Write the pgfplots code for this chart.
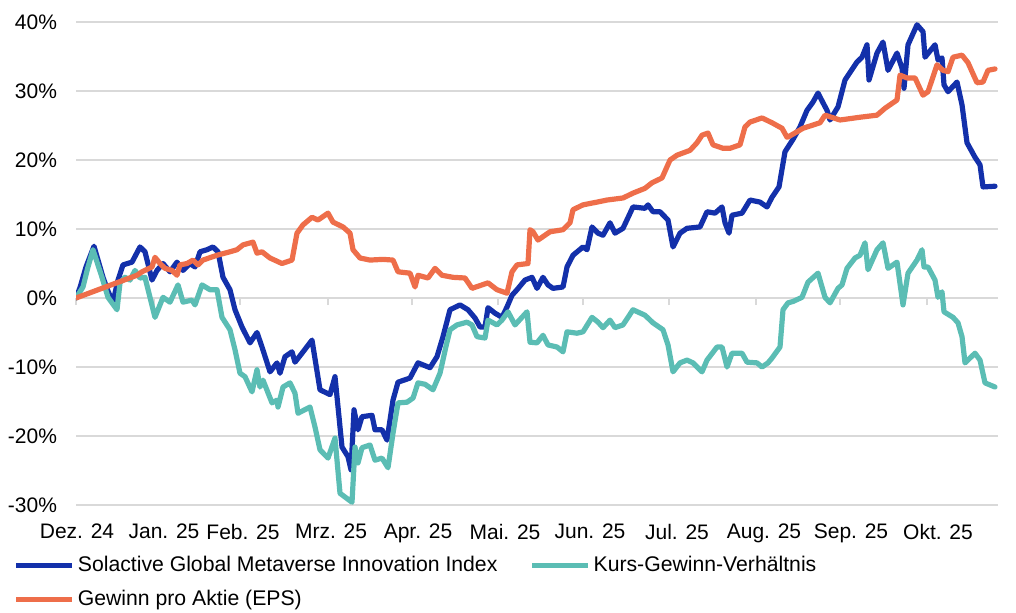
\documentclass[border=0pt]{standalone}
\usepackage{fontspec}
\setmainfont{Liberation Sans}
\usepackage{pgfplots}
\pgfplotsset{compat=1.18}

\definecolor{cBlue}{HTML}{1330AA}
\definecolor{cTeal}{HTML}{5BBDB4}
\definecolor{cOrange}{HTML}{EE6E4A}
\definecolor{cGrid}{HTML}{D9D9D9}

\begin{document}
\begin{tikzpicture}
\useasboundingbox (0,0) rectangle (508pt,306pt);

% month tick marks on the zero line
\begin{axis}[
    at={(38pt,53.5pt)}, anchor=south west,
    scale only axis, width=461pt, height=241.5pt,
    xmin=76, xmax=998, ymin=-30, ymax=40,
    axis x line=middle, axis y line=none,
    axis line style={draw=none},
    xtick={76,154,240,328,412,498,583,669,756,840,927},
    xticklabels={},
    tick align=outside,
    major tick length=3.5pt,
    tick style={draw=cGrid, line width=1pt},
]
\end{axis}

\begin{axis}[
    at={(38pt,53.5pt)}, anchor=south west,
    scale only axis, width=461pt, height=241.5pt,
    xmin=76, xmax=998, ymin=-30, ymax=40,
    axis line style={draw=none},
    major tick length=0pt,
    ymajorgrids,
    grid style={draw=cGrid, line width=1pt},
    ytick={-30,-20,-10,0,10,20,30,40},
    yticklabels={-30\%,-20\%,-10\%,0\%,10\%,20\%,30\%,40\%},
    xtick={77,164,243,331,418,505,590,677,764,851,938},
    xticklabels={Dez. 24,Jan. 25,Feb. 25,Mrz. 25,Apr. 25,Mai. 25,Jun. 25,Jul. 25,Aug. 25,Sep. 25,Okt. 25},
    tick label style={font=\fontsize{10.5}{12}\selectfont},
    xticklabel style={yshift=-6pt},
    yticklabel style={xshift=-6pt},
    every axis plot/.append style={line width=2.6pt, line join=round, line cap=round},
    legend columns=2,
    legend style={
        at={(-0.068,-0.099)}, anchor=north west,
        draw=none, fill=none, inner sep=0pt,
        font=\fontsize{10.6}{12}\selectfont,
        cells={anchor=west},
        nodes={inner sep=1.5pt},
        row sep=5pt,
        /tikz/every even column/.append style={column sep=14.5pt},
    },
    legend image code/.code={\draw[#1, line cap=butt] (0pt,0pt) -- (28pt,0pt);},
]
\addplot[cBlue] coordinates {
(76,0) (80,1.5) (86,4.5) (90,6) (94,7.5) (99,5) (103,3) (108,1) (113,-0.6) (118,2.6)
(123,4.8) (132,5.2) (140,7.4) (145,6.7) (152,2.6) (157,4) (163,5) (170,3.8) (177,5.2) (183,4)
(190,5) (195,4.5) (200,6.7) (207,7) (213,7.4) (218,6.7) (223,3) (230,1.2) (235,-1.7) (242,-4.2)
(250,-6.5) (257,-5) (262,-7.1) (270,-10.7) (277,-9.4) (280,-10.9) (285,-8.5) (292,-7.8) (295,-9.3) (302,-8)
(312,-6.1) (320,-13.3) (330,-14) (335,-11.4) (342,-21.6) (348,-23) (351,-24.9) (354,-16.2) (358,-19.1) (362,-17.2)
(372,-17) (375,-19.1) (382,-19.1) (387,-20.6) (393,-14.8) (398,-12.2) (410,-11.6) (418,-9.4) (430,-10.1) (437,-8.5)
(443,-5.6) (450,-1.7) (460,-1) (468,-1.7) (475,-2.9) (480,-4.2) (485,-4.2) (488,-1.4) (495,-2.2) (502,-2.8)
(507,-1.3) (512,0.4) (517,1.2) (525,2.6) (532,3) (537,1.4) (543,3) (548,1.9) (553,1.4) (563,1.6)
(567,4.5) (573,6.2) (583,7.4) (587,7) (592,10.3) (598,9.4) (603,9.1) (610,10.9) (615,9.4) (623,10.1)
(633,13.2) (645,13) (648,13.5) (653,12.5) (660,12.5) (668,11.3) (673,7.4) (680,9.4) (687,10.1) (700,10.3)
(707,12.5) (715,12.3) (722,13.2) (725,10.9) (729,9.4) (732,12) (742,12.3) (750,14.2) (760,13.9) (767,13.2)
(772,14.6) (779,16.1) (785,21.2) (793,23) (800,24.8) (807,27.2) (813,28.4) (818,29.7) (823,28.3) (827,27.2)
(830,25.8) (838,27.7) (845,31.6) (857,34.2) (862,34.9) (867,36.7) (869,31.6) (877,35.5) (883,37.1) (888,33)
(897,35.5) (902,33.3) (904,30.4) (908,36.7) (917,39.6) (923,38.6) (925,34.9) (935,36.7) (938,34.5) (942,34.8)
(944,30.9) (948,29.9) (957,31.3) (962,28) (967,22.5) (975,20.4) (980,19.3) (983,16.1) (995,16.2)
};
\addlegendentry{Solactive Global Metaverse Innovation Index}
\addplot[cTeal] coordinates {
(76,0) (83,1.6) (88,4.5) (93,7) (102,3) (108,0.1) (117,-1.7) (120,2.2) (125,3) (130,2.6)
(135,4) (140,2.9) (145,3) (155,-2.8) (163,0.1) (170,-0.6) (178,1.9) (183,-0.6) (192,-0.3) (195,-1)
(202,1.9) (210,1.2) (217,1.2) (222,-2.8) (230,-4.6) (235,-7.5) (240,-10.9) (245,-11.4) (252,-13.6) (257,-10.4)
(260,-12.9) (263,-11.9) (272,-15.2) (277,-14.8) (278,-15.8) (283,-12.9) (290,-12.3) (295,-13.8) (298,-16.7) (310,-15.8)
(315,-18.7) (320,-22) (328,-23.2) (335,-20.3) (340,-28.3) (352,-29.6) (355,-21.6) (358,-23.9) (362,-21.7) (370,-21.3)
(375,-23.5) (382,-23.2) (388,-24.6) (393,-19.6) (398,-15.2) (407,-15.1) (413,-14.5) (418,-12.3) (425,-12.5) (433,-13.3)
(440,-10.9) (446,-7) (450,-4.6) (457,-3.9) (467,-3.5) (472,-3.9) (477,-5.6) (485,-5.8) (488,-3.2) (497,-3.9)
(502,-3.2) (508,-2) (515,-3.9) (527,-2) (530,-6.4) (537,-6.5) (543,-5.4) (548,-6.8) (557,-7.1) (563,-7.8)
(567,-4.9) (577,-5.1) (583,-4.9) (592,-2.8) (598,-3.5) (603,-4.3) (610,-3.2) (615,-4.3) (623,-3.9) (633,-1.7)
(645,-2.5) (653,-3.6) (663,-4.6) (668,-6.8) (673,-10.7) (680,-9.4) (687,-9) (693,-9.4) (702,-10.7) (707,-9)
(717,-7.1) (722,-7.1) (727,-10) (732,-8) (742,-8) (747,-9.3) (757,-9.4) (762,-10) (768,-9.4) (772,-8.7)
(780,-7.1) (783,-1.7) (788,-0.7) (793,-0.5) (802,0.1) (808,2.3) (818,3.6) (825,0.1) (830,-0.7) (838,1.4)
(842,1.9) (847,4.3) (855,5.8) (860,6.2) (865,8) (868,4.1) (877,7) (883,8) (888,4.3) (897,5.2)
(903,-1) (908,3.6) (917,5.5) (922,7) (924,4.5) (928,4.5) (935,2.6) (938,0.1) (942,0.9) (944,-2)
(953,-2.8) (958,-3.6) (962,-5.6) (965,-9.4) (975,-8) (980,-9) (985,-12.3) (995,-12.9)
};
\addlegendentry{Kurs-Gewinn-Verhältnis}
\addplot[cOrange] coordinates {
(76,0) (137,3.3) (142,3.8) (152,4.5) (155,5.9) (160,5) (165,4.3) (172,4) (177,3.3) (180,4.8)
(187,5) (193,5.5) (198,4.8) (203,5.5) (217,6.2) (230,6.7) (237,7) (243,7.7) (253,8.1) (257,6.5)
(262,6.7) (270,5.8) (282,5) (292,5.5) (297,9.4) (303,10.6) (312,11.7) (318,11.3) (328,12.3) (333,11)
(343,10.3) (350,9.4) (353,7) (360,5.8) (370,5.5) (383,5.6) (393,5.5) (398,3.8) (410,3.6) (415,1.6)
(418,3.3) (428,2.9) (435,4.3) (442,3.3) (453,3) (465,2.9) (472,1.4) (488,2.2) (497,1.2) (507,0.7)
(512,3.8) (517,4.8) (528,5) (530,9.9) (533,9.6) (538,8.4) (550,9.6) (563,9.9) (570,10.9) (573,12.8)
(583,13.5) (597,13.9) (607,14.2) (623,14.5) (633,15.2) (645,15.9) (652,16.7) (662,17.4) (670,20) (677,20.7)
(690,21.4) (697,22.5) (702,23.6) (708,23.9) (713,22.2) (723,21.7) (730,21.7) (740,22.2) (745,24.8) (750,25.5)
(762,26.1) (772,25.4) (782,24.6) (787,23.3) (790,23.5) (803,24.6) (820,25.4) (825,26.5) (840,25.8) (860,26.2)
(877,26.5) (885,27.5) (897,28.7) (900,32.3) (907,31.9) (915,31.9) (923,29.4) (928,29.9) (937,33.8) (943,33)
(948,32.8) (953,34.9) (962,35.2) (968,34.1) (977,31.2) (983,31.3) (988,33) (995,33.2)
};
\addlegendentry{Gewinn pro Aktie (EPS)}
\end{axis}
\end{tikzpicture}
\end{document}
